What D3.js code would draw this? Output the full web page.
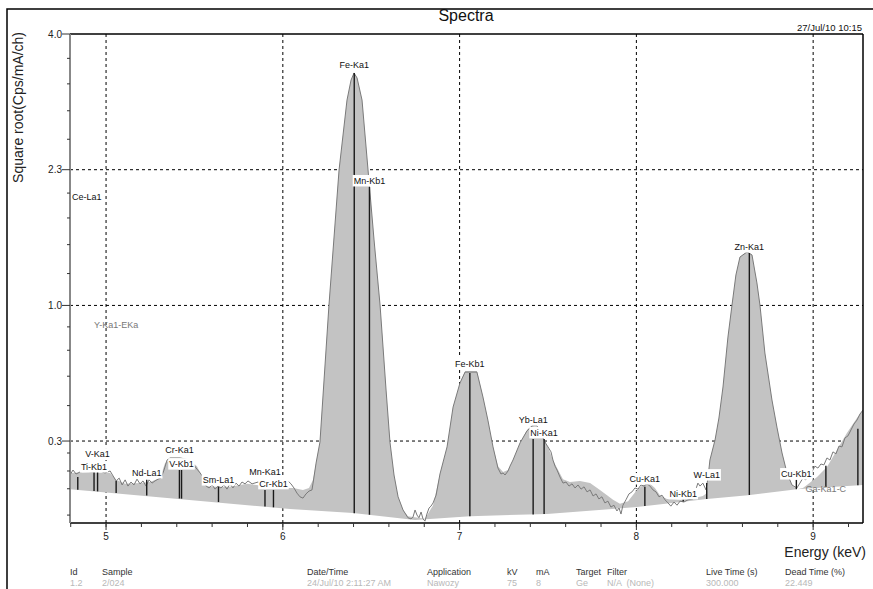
<!DOCTYPE html>
<html>
<head>
<meta charset="utf-8">
<script src="https://cdn.jsdelivr.net/npm/d3@7"></script>
<style>
  body { margin: 0; background: #fff; }
  svg { display: block; font-family: "Liberation Sans", Arial, sans-serif; }
</style>
</head>
<body>
<svg id="chart" width="873" height="589"></svg>
<script>
const specEnergy = [4.796,4.813,4.830,4.853,4.881,4.921,4.966,4.994,5.023,5.040,5.057,5.074,5.091,5.108,5.124,5.141,5.158,5.175,5.192,5.209,5.226,5.243,5.260,5.277,5.294,5.311,5.328,5.345,5.362,5.419,5.475,5.514,5.532,5.549,5.566,5.583,5.600,5.617,5.633,5.650,5.667,5.684,5.701,5.718,5.735,5.752,5.769,5.786,5.803,5.826,5.860,5.899,5.956,5.990,6.012,6.029,6.046,6.063,6.080,6.097,6.114,6.131,6.148,6.165,6.171,6.188,6.210,6.261,6.318,6.363,6.386,6.403,6.420,6.448,6.482,6.516,6.550,6.584,6.606,6.629,6.652,6.680,6.708,6.725,6.736,6.748,6.759,6.770,6.782,6.793,6.804,6.815,6.827,6.838,6.850,6.867,6.889,6.929,6.963,7.002,7.031,7.098,7.132,7.160,7.189,7.217,7.234,7.246,7.257,7.274,7.285,7.302,7.342,7.381,7.410,7.438,7.472,7.489,7.500,7.517,7.528,7.540,7.551,7.568,7.585,7.602,7.619,7.636,7.653,7.670,7.687,7.704,7.721,7.738,7.755,7.772,7.788,7.805,7.822,7.839,7.856,7.873,7.890,7.902,7.913,7.924,7.941,7.958,7.975,7.992,8.009,8.026,8.043,8.060,8.077,8.094,8.111,8.128,8.145,8.162,8.179,8.195,8.213,8.230,8.247,8.269,8.292,8.320,8.337,8.348,8.360,8.376,8.394,8.405,8.416,8.445,8.467,8.490,8.518,8.541,8.563,8.586,8.626,8.654,8.682,8.699,8.727,8.767,8.795,8.824,8.852,8.880,8.908,8.925,8.942,8.959,8.976,8.993,9.010,9.027,9.044,9.061,9.078,9.095,9.112,9.129,9.146,9.163,9.180,9.197,9.214,9.231,9.248,9.265,9.282]
const specCounts = [0.166,0.181,0.169,0.175,0.178,0.175,0.178,0.172,0.178,0.163,0.149,0.157,0.138,0.152,0.135,0.146,0.138,0.154,0.141,0.149,0.135,0.152,0.143,0.149,0.154,0.157,0.181,0.213,0.220,0.220,0.213,0.184,0.172,0.160,0.135,0.130,0.138,0.127,0.135,0.130,0.138,0.127,0.141,0.130,0.143,0.135,0.146,0.141,0.149,0.141,0.146,0.141,0.135,0.146,0.152,0.149,0.141,0.130,0.117,0.108,0.105,0.115,0.122,0.125,0.143,0.203,0.277,1.043,2.277,3.103,3.363,3.457,3.390,3.103,2.277,1.578,1.043,0.510,0.277,0.166,0.108,0.079,0.064,0.062,0.065,0.079,0.069,0.064,0.075,0.062,0.058,0.071,0.083,0.087,0.094,0.112,0.169,0.259,0.426,0.547,0.607,0.607,0.475,0.367,0.259,0.187,0.169,0.172,0.166,0.178,0.193,0.213,0.274,0.321,0.342,0.342,0.293,0.270,0.259,0.241,0.213,0.193,0.181,0.160,0.143,0.146,0.135,0.141,0.130,0.138,0.127,0.133,0.120,0.125,0.110,0.115,0.103,0.108,0.094,0.098,0.085,0.089,0.077,0.083,0.071,0.089,0.101,0.115,0.120,0.130,0.127,0.138,0.135,0.141,0.135,0.125,0.120,0.108,0.112,0.101,0.094,0.087,0.096,0.089,0.098,0.096,0.101,0.103,0.127,0.143,0.135,0.143,0.125,0.157,0.213,0.285,0.376,0.526,0.820,1.043,1.276,1.427,1.471,1.445,1.212,1.043,0.719,0.460,0.337,0.237,0.172,0.138,0.130,0.143,0.157,0.152,0.181,0.175,0.193,0.187,0.200,0.197,0.220,0.213,0.241,0.234,0.262,0.259,0.293,0.301,0.325,0.350,0.367,0.394,0.412]

// fitted spectrum (top of the grey fill)
const fitEnergy = [4.796,4.910,5.023,5.057,5.108,5.192,5.249,5.305,5.334,5.362,5.475,5.514,5.549,5.566,5.617,5.701,5.798,5.899,6.001,6.058,6.114,6.148,6.171,6.188,6.210,6.261,6.318,6.363,6.386,6.403,6.420,6.448,6.482,6.516,6.550,6.584,6.606,6.629,6.652,6.680,6.708,6.804,6.850,6.889,6.929,6.963,7.002,7.031,7.098,7.132,7.160,7.189,7.217,7.246,7.274,7.302,7.342,7.381,7.410,7.472,7.500,7.528,7.551,7.585,7.624,7.681,7.738,7.794,7.834,7.868,7.907,7.953,8.003,8.037,8.077,8.105,8.133,8.173,8.247,8.331,8.376,8.399,8.416,8.445,8.467,8.490,8.518,8.541,8.563,8.586,8.626,8.654,8.682,8.699,8.727,8.767,8.795,8.824,8.852,8.880,8.908,8.942,8.965,9.022,9.078,9.135,9.191,9.248,9.282]
const fitCounts = [0.172,0.175,0.172,0.152,0.141,0.143,0.146,0.157,0.203,0.213,0.213,0.193,0.157,0.135,0.133,0.133,0.141,0.135,0.130,0.130,0.125,0.130,0.152,0.203,0.277,1.043,2.277,3.103,3.363,3.457,3.390,3.103,2.277,1.578,1.043,0.510,0.277,0.166,0.108,0.079,0.067,0.062,0.089,0.169,0.259,0.426,0.547,0.613,0.613,0.475,0.367,0.259,0.193,0.175,0.181,0.213,0.274,0.325,0.346,0.293,0.259,0.213,0.187,0.154,0.146,0.149,0.143,0.125,0.112,0.101,0.092,0.098,0.125,0.138,0.141,0.130,0.112,0.103,0.101,0.105,0.110,0.117,0.213,0.285,0.376,0.526,0.820,1.043,1.276,1.427,1.479,1.445,1.212,1.043,0.719,0.460,0.337,0.237,0.172,0.138,0.127,0.130,0.138,0.160,0.190,0.248,0.313,0.376,0.412]

// background (bottom of the grey fill)
const bgEnergy = [4.796,6.041,6.397,6.748,7.059,7.494,8.003,8.399,8.631,8.908,9.282]
const bgCounts = [0.127,0.081,0.073,0.060,0.067,0.071,0.085,0.103,0.112,0.127,0.138]

// identified lines
const peakNames  = ['Ce-La1','Ti-Kb1','V-Ka1','Y-Ka1-EKa','Nd-La1','Cr-Ka1','V-Kb1','Sm-La1','Mn-Ka1','Cr-Kb1','Fe-Ka1','Mn-Kb1','Fe-Kb1','Yb-La1','Ni-Ka1','Cu-Ka1','Ni-Kb1','W-La1','Zn-Ka1','Cu-Kb1','Ga-Ka1-C','']
const peakEnergy = [4.840,4.932,4.952,5.057,5.230,5.415,5.427,5.636,5.899,5.947,6.404,6.490,7.058,7.416,7.478,8.048,8.265,8.398,8.639,8.905,9.072,9.253]
const peakTop    = [0.160,0.175,0.175,0.149,0.152,0.181,0.181,0.133,0.125,0.125,3.457,2.095,0.602,0.289,0.289,0.133,0.101,0.143,1.462,0.152,0.194,0.330]
const peakLabelAt= [1.961,0.181,0.223,0.880,0.163,0.237,0.190,0.143,0.166,0.133,3.524,2.127,0.636,0.354,0.301,0.146,0.108,0.157,1.488,0.160,0.120,0]
const peakGrey   = ['Y-Ka1-EKa','Ga-Ka1-C']

// axes
const xTicks = [5,6,7,8,9]
const yTickValues = [4.0,2.28,1.04,0.281]
const yTickLabels = ['4.0','2.3','1.0','0.3']
const yMinorTicks = [3.656,3.312,2.968,2.624,2.032,1.784,1.536,1.288,0.888,0.736,0.584,0.433,0.237,0.178,0.128,0.069]

// info table under the chart
const infoHeads = ['Id','Sample','Date/Time','Application','kV','mA','Target','Filter','Live Time (s)','Dead Time (%)']
const infoValues = ['1.2','2/024','24/Jul/10 2:11:27 AM','Nawozy','75','8','Ge','N/A  (None)','300.000','22.449']
const infoCols = [70,102,307,427,507,536,576,607,706,785]

const svg = d3.select('#chart')
const plot = {left: 70, right: 863, top: 34, bottom: 523}

const x = d3.scaleLinear().domain([4.796, 9.282]).range([plot.left, plot.right])
const y = d3.scaleSqrt().domain([0.0548, 4.0]).range([plot.bottom, plot.top])

const spec = specEnergy.map((e, i) => ({e, v: specCounts[i]}))
const fit = fitEnergy.map((e, i) => ({e, v: fitCounts[i]}))
const bg = bgEnergy.map((e, i) => ({e, v: bgCounts[i]}))

function bgAt(e) {
  const i = Math.max(1, Math.min(bg.length - 1, d3.bisectLeft(bgEnergy, e)))
  const a = bg[i - 1], b = bg[i]
  return a.v + (b.v - a.v) * (e - a.e) / (b.e - a.e)
}

svg.append('defs').append('clipPath').attr('id', 'clip')
  .append('rect')
  .attr('x', plot.left).attr('y', plot.top)
  .attr('width', plot.right - plot.left).attr('height', plot.bottom - plot.top)

// outer frame
svg.append('rect')
  .attr('x', 7).attr('y', 9).attr('width', 900).attr('height', 620)
  .attr('fill', 'none').attr('stroke', '#000').attr('stroke-width', 1.5)

svg.append('text')
  .attr('x', 466).attr('y', 21)
  .attr('text-anchor', 'middle').attr('font-size', 16).attr('fill', '#111')
  .text('Spectra')
svg.append('text')
  .attr('x', 862).attr('y', 31)
  .attr('text-anchor', 'end').attr('font-size', 9.5).attr('fill', '#111')
  .text('27/Jul/10 10:15')

// dashed grid
const grid = svg.append('g').attr('stroke', '#000').attr('stroke-dasharray', '3,3').attr('stroke-width', 1)
grid.selectAll('.gx').data(xTicks).join('line')
  .attr('x1', d => x(d)).attr('x2', d => x(d))
  .attr('y1', plot.top).attr('y2', plot.bottom)
grid.selectAll('.gy').data(yTickValues.slice(1)).join('line')
  .attr('x1', plot.left).attr('x2', plot.right)
  .attr('y1', d => y(d)).attr('y2', d => y(d))

const g = svg.append('g').attr('clip-path', 'url(#clip)')

// grey fill between background and fit
const pts = fit.map(d => [x(d.e), y(d.v)])
  .concat(bg.slice().reverse().map(d => [x(d.e), y(d.v)]))
g.append('path')
  .attr('d', d3.line()(pts) + 'Z')
  .attr('fill', '#c3c3c3')

// measured spectrum
g.append('path')
  .datum(spec)
  .attr('d', d3.line().x(d => x(d.e)).y(d => y(d.v)))
  .attr('fill', 'none').attr('stroke', '#7a7a7a').attr('stroke-width', 1)

// peak markers
const peaks = peakNames.map((name, i) => ({name, e: peakEnergy[i], top: peakTop[i], label: peakLabelAt[i]}))
g.selectAll('.marker').data(peaks).join('line')
  .attr('x1', d => x(d.e)).attr('x2', d => x(d.e))
  .attr('y1', d => y(bgAt(d.e))).attr('y2', d => y(d.top))
  .attr('stroke', '#1a1a1a').attr('stroke-width', 1.4)

// peak labels with white boxes
const labels = svg.append('g').attr('font-size', 9)
peaks.filter(d => d.name).forEach(d => {
  const grey = peakGrey.includes(d.name)
  const lg = labels.append('g')
  const rect = lg.append('rect').attr('fill', '#fff')
  const t = lg.append('text')
    .attr('y', y(d.label))
    .attr('fill', grey ? '#777' : '#111')
    .text(d.name)
  const w = t.node().getComputedTextLength()
  const left = Math.max(plot.left + 2, Math.min(plot.right - 2 - w, x(d.e) - w / 2))
  t.attr('x', left)
  if (!grey) {
    rect.attr('x', left - 1).attr('y', y(d.label) - 9)
      .attr('width', w + 2).attr('height', 11.5)
  } else rect.remove()
})

// axes
const axes = svg.append('g')
axes.append('line')
  .attr('x1', plot.left).attr('x2', plot.right).attr('y1', plot.top).attr('y2', plot.top)
  .attr('stroke', '#000').attr('stroke-width', 1.5)
axes.append('line')
  .attr('x1', plot.right).attr('x2', plot.right).attr('y1', plot.top).attr('y2', plot.bottom)
  .attr('stroke', '#000').attr('stroke-width', 1.5)
axes.append('line')
  .attr('x1', plot.left).attr('x2', plot.right).attr('y1', plot.bottom).attr('y2', plot.bottom)
  .attr('stroke', '#000').attr('stroke-width', 1.5)
axes.append('line')
  .attr('x1', plot.left).attr('x2', plot.left).attr('y1', plot.top).attr('y2', plot.bottom)
  .attr('stroke', '#888').attr('stroke-width', 2)

axes.selectAll('.ymaj').data(yTickValues).join('line')
  .attr('x1', plot.left - 8).attr('x2', plot.left)
  .attr('y1', d => y(d)).attr('y2', d => y(d))
  .attr('stroke', '#333')
axes.selectAll('.ymin').data(yMinorTicks).join('line')
  .attr('x1', plot.left - 3).attr('x2', plot.left)
  .attr('y1', d => y(d)).attr('y2', d => y(d))
  .attr('stroke', '#333')
axes.selectAll('.ylab').data(yTickValues).join('text')
  .attr('x', plot.left - 8).attr('y', d => y(d) + 3.5)
  .attr('text-anchor', 'end').attr('font-size', 10).attr('fill', '#222')
  .text((d, i) => yTickLabels[i])

const xMinor = d3.range(4.8, 9.3, 0.2)
axes.selectAll('.xmin').data(xMinor).join('line')
  .attr('x1', d => x(d)).attr('x2', d => x(d))
  .attr('y1', plot.bottom).attr('y2', plot.bottom + 4)
  .attr('stroke', '#333')
axes.selectAll('.xmaj').data(xTicks).join('line')
  .attr('x1', d => x(d)).attr('x2', d => x(d))
  .attr('y1', plot.bottom).attr('y2', plot.bottom + 7)
  .attr('stroke', '#333')
axes.selectAll('.xlab').data(xTicks).join('text')
  .attr('x', d => x(d)).attr('y', plot.bottom + 17)
  .attr('text-anchor', 'middle').attr('font-size', 10).attr('fill', '#222')
  .text(d => d)

svg.append('text')
  .attr('x', 866).attr('y', 557)
  .attr('text-anchor', 'end').attr('font-size', 14).attr('fill', '#222')
  .text('Energy (keV)')
svg.append('text')
  .attr('transform', 'translate(23,32) rotate(-90)')
  .attr('text-anchor', 'end').attr('font-size', 14).attr('fill', '#222')
  .text('Square root(Cps/mA/ch)')

// info table
const info = svg.append('g').attr('font-size', 9)
info.selectAll('.head').data(infoHeads).join('text')
  .attr('x', (d, i) => infoCols[i]).attr('y', 575)
  .attr('fill', '#333').text(d => d)
info.selectAll('.val').data(infoValues).join('text')
  .attr('x', (d, i) => infoCols[i]).attr('y', 586)
  .attr('fill', '#b8b8b8').attr('xml:space', 'preserve').text(d => d)
</script>
</body>
</html>
